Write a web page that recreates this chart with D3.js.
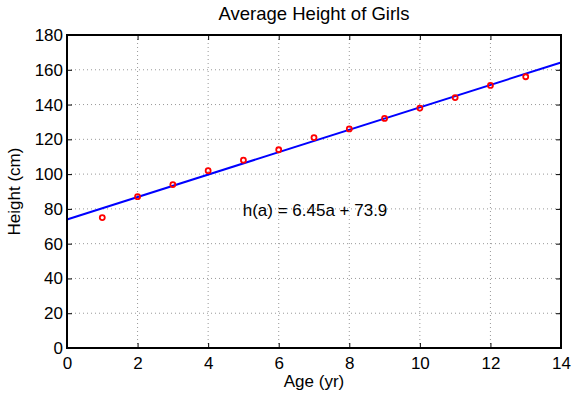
<!DOCTYPE html>
<html><head><meta charset="utf-8">
<script src="https://cdn.jsdelivr.net/npm/d3@7"></script>
<style>body{margin:0;background:#fff;} text{font-family:"Liberation Sans",Arial,sans-serif;}</style>
</head><body>
<svg id="c" width="572" height="394"></svg>
<script>
const ages = [1,2,3,4,5,6,7,8,9,10,11,12,13];
const heights = [75,87,94,102,108,114,121,126,132,138,144,151,156];
const slope = 6.45, intercept = 73.9;
const xTicks = [0,2,4,6,8,10,12,14];
const yTicks = [0,20,40,60,80,100,120,140,160,180];
const titleText = "Average Height of Girls";
const xLabel = "Age (yr)", yLabel = "Height (cm)";
const eqText = "h(a) = 6.45a + 73.9";

const svg = d3.select("#c");
const L=67,R=561,T=35,B=348;
const x = d3.scaleLinear().domain([0,14]).range([L,R]);
const y = d3.scaleLinear().domain([0,180]).range([B,T]);
const fs = 17;
const ff = "Liberation Sans, Arial, sans-serif";

// grid
const g = svg.append("g");
xTicks.slice(1,-1).forEach(t=>g.append("line").attr("x1",x(t)).attr("x2",x(t)).attr("y1",T).attr("y2",B)
  .attr("stroke","#999").attr("stroke-width",1).attr("stroke-dasharray","1,3"));
yTicks.slice(1,-1).forEach(t=>g.append("line").attr("y1",y(t)).attr("y2",y(t)).attr("x1",L).attr("x2",R)
  .attr("stroke","#999").attr("stroke-width",1).attr("stroke-dasharray","1,3"));

// axes with inward ticks
const ax = svg.append("g");
ax.append("g").attr("transform",`translate(0,${B})`).call(d3.axisBottom(x).tickValues(xTicks).tickSizeInner(-5).tickSizeOuter(0).tickPadding(9))
  .call(s=>{s.select(".domain").remove(); s.selectAll("text").attr("font-size",fs).attr("fill","#000").attr("font-family",ff);});
ax.append("g").attr("transform",`translate(${L},0)`).call(d3.axisLeft(y).tickValues(yTicks).tickSizeInner(-5).tickSizeOuter(0).tickPadding(4))
  .call(s=>{s.select(".domain").remove(); s.selectAll("text").attr("font-size",fs).attr("fill","#000").attr("font-family",ff);});
ax.append("g").attr("transform",`translate(0,${T})`).call(d3.axisTop(x).tickValues(xTicks).tickSizeInner(-5).tickSizeOuter(0).tickFormat(""))
  .call(s=>s.select(".domain").remove());
ax.append("g").attr("transform",`translate(${R},0)`).call(d3.axisRight(y).tickValues(yTicks).tickSizeInner(-5).tickSizeOuter(0).tickFormat(""))
  .call(s=>s.select(".domain").remove());
ax.selectAll(".tick line").attr("stroke","#000").attr("stroke-width",1);

// fit line
const lineData = [0,14].map(a=>[a, slope*a+intercept]);
svg.append("path").datum(lineData).attr("d",d3.line().x(d=>x(d[0])).y(d=>y(d[1])))
  .attr("stroke","#0000ff").attr("stroke-width",2).attr("fill","none");

// points
svg.append("g").selectAll("circle").data(ages).join("circle")
  .attr("cx",(d)=>x(d)).attr("cy",(d,i)=>y(heights[i])).attr("r",2.5)
  .attr("fill","none").attr("stroke","#ff0000").attr("stroke-width",1.8);

// frame
svg.append("rect").attr("x",L).attr("y",T).attr("width",R-L).attr("height",B-T)
  .attr("fill","none").attr("stroke","#000").attr("stroke-width",2);

// texts
svg.append("text").attr("x",(L+R)/2).attr("y",20).attr("text-anchor","middle").attr("font-size",18.5).text(titleText);
svg.append("text").attr("x",(L+R)/2).attr("y",387).attr("text-anchor","middle").attr("font-size",fs).text(xLabel);
svg.append("text").attr("transform",`translate(19.5,${(T+B)/2}) rotate(-90)`).attr("text-anchor","middle").attr("font-size",fs).text(yLabel);
svg.append("text").attr("x",x(4.98)).attr("y",216).attr("font-size",fs).text(eqText);
</script>
</body></html>
